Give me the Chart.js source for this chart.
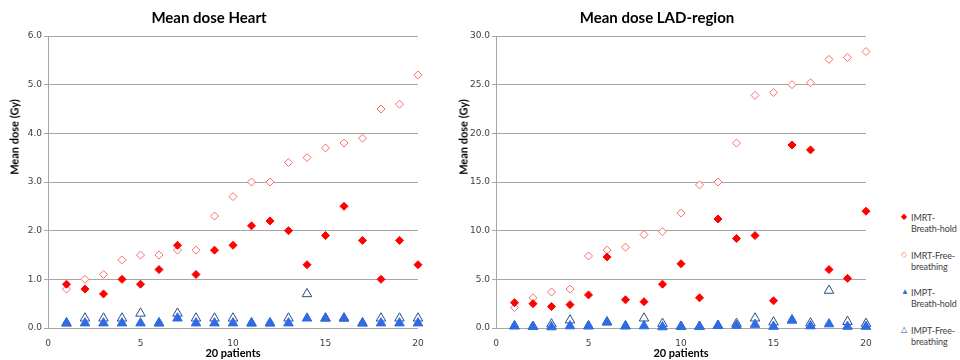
<!DOCTYPE html>
<html>
<head>
<meta charset="utf-8">
<script src="https://cdn.jsdelivr.net/npm/chart.js@4/dist/chart.umd.min.js"></script>
<style>
  body{margin:0;background:#fff;width:960px;height:360px;overflow:hidden;position:relative;font-family:"DejaVu Sans",sans-serif}
  .box{position:absolute;top:0;width:440px;height:360px}
  .ytitle{position:absolute;top:137px;width:120px;margin-left:-60px;text-align:center;font:bold 11px Lato,sans-serif;color:#000;transform:translateY(-50%) rotate(-90deg);white-space:nowrap}
  #legend{position:absolute;left:901px;top:212px;font:9px Lato,sans-serif;color:#404040;white-space:nowrap;letter-spacing:-0.1px}
  #legend .it{position:relative;height:37.5px;padding-left:10px;line-height:11px}
  #legend .mk{position:absolute;left:0;top:-1px;font-size:8px;line-height:11px}
</style>
</head>
<body>
<div class="box" style="left:0"><canvas id="heart"></canvas></div>
<div class="box" style="left:448px"><canvas id="lad"></canvas></div>
<div class="ytitle" style="left:14px">Mean dose (Gy)</div>
<div class="ytitle" style="left:463px">Mean dose (Gy)</div>
<div id="legend"></div>
<script>
const patients = [1,2,3,4,5,6,7,8,9,10,11,12,13,14,15,16,17,18,19,20];
const seriesNames = ['IMRT-Breath-hold','IMRT-Free-breathing','IMPT-Breath-hold','IMPT-Free-breathing'];
const legendLines = [['IMRT-','Breath-hold'],['IMRT-Free-','breathing'],['IMPT-','Breath-hold'],['IMPT-Free-','breathing']];

// Mean dose Heart (Gy)
const heartImrtBH = [0.9,0.8,0.7,1.0,0.9,1.2,1.7,1.1,1.6,1.7,2.1,2.2,2.0,1.3,1.9,2.5,1.8,1.0,1.8,1.3];
const heartImrtFB = [0.8,1.0,1.1,1.4,1.5,1.5,1.6,1.6,2.3,2.7,3.0,3.0,3.4,3.5,3.7,3.8,3.9,4.5,4.6,5.2];
const heartImptBH = [0.1,0.1,0.1,0.1,0.1,0.1,0.2,0.1,0.1,0.1,0.1,0.1,0.1,0.2,0.2,0.2,0.1,0.1,0.1,0.1];
const heartImptFB = [0.1,0.2,0.2,0.2,0.3,0.1,0.3,0.2,0.2,0.2,0.1,0.1,0.2,0.7,0.2,0.2,0.1,0.2,0.2,0.2];

// Mean dose LAD-region (Gy)
const ladImrtBH = [2.6,2.5,2.2,2.4,3.4,7.3,2.9,2.7,4.5,6.6,3.1,11.2,9.2,9.5,2.8,18.8,18.3,6.0,5.1,12.0];
const ladImrtFB = [2.1,3.1,3.7,4.0,7.4,8.0,8.3,9.6,9.9,11.8,14.7,15.0,19.0,23.9,24.2,25.0,25.2,27.6,27.8,28.4];
const ladImptBH = [0.2,0.15,0.1,0.2,0.2,0.6,0.2,0.2,0.1,0.15,0.15,0.25,0.25,0.35,0.15,0.8,0.2,0.4,0.15,0.15];
const ladImptFB = [0.2,0.15,0.4,0.8,0.2,0.6,0.2,1.0,0.45,0.15,0.15,0.25,0.45,1.0,0.6,0.8,0.5,3.85,0.65,0.45];

const markStyles = [
  {shape:'rectRot', r:4, fill:'#ff0000', line:'#ff0000'},
  {shape:'rectRot', r:4, fill:'#ffffff', line:'#ff6b6b'},
  {shape:'triangle', r:5.5, fill:'#2f6be6', line:'#2f6be6'},
  {shape:'triangle', r:5.5, fill:'rgba(255,255,255,0)', line:'#2b4b80'}
];

function makeChart(id, title, series, yMax, yStep){
  const cv = document.getElementById(id);
  cv.width = 440; cv.height = 360;
  new Chart(cv, {
    type: 'scatter',
    data: {
      datasets: series.map((vals,i)=>{
        const m = markStyles[i];
        return {
          label: seriesNames[i],
          data: vals.map((v,j)=>({x:patients[j], y:v})),
          clip: false,
          pointStyle: m.shape, pointRadius: m.r, pointHoverRadius: m.r, pointBorderWidth: 1, pointHoverBorderWidth: 1,
          backgroundColor: m.fill, borderColor: m.line,
          pointBackgroundColor: m.fill, pointBorderColor: m.line,
          pointHoverBackgroundColor: m.fill, pointHoverBorderColor: m.line
        };
      })
    },
    options: {
      responsive:false, animation:false, events:[],
      layout:{padding:{left:0,right:22,top:0,bottom:0}},
      plugins:{
        legend:{display:false}, tooltip:{enabled:false},
        title:{display:true, text:title, color:'#000', font:{family:'Lato', size:15, weight:'bold'}, padding:{top:9,bottom:9}}
      },
      scales:{
        x:{type:'linear', min:0, max:20,
          ticks:{stepSize:5, color:'#404040', font:{family:'DejaVu Sans', size:9}, padding:10, maxRotation:0},
          grid:{display:false, drawTicks:false}, border:{display:false},
          title:{display:true, text:'20 patients', color:'#000', font:{family:'Lato', size:11, weight:'bold'}, padding:{top:0,bottom:0}},
          afterFit(s){ s.height = 32; }
        },
        y:{min:0, max:yMax,
          ticks:{stepSize:yStep, color:'#404040', font:{family:'DejaVu Sans', size:9}, padding:2, callback:v=>v.toFixed(1)},
          grid:{color:'#a6a6a6', drawTicks:true, tickLength:4}, border:{color:'#a6a6a6'},
          afterFit(s){ s.width = 48; }
        }
      }
    }
  });
}

makeChart('heart','Mean dose Heart',[heartImrtBH,heartImrtFB,heartImptBH,heartImptFB],6,1);
makeChart('lad','Mean dose LAD-region',[ladImrtBH,ladImrtFB,ladImptBH,ladImptFB],30,5);

const marks = [['◆','#ff0000'],['◇','#ff6b6b'],['▲','#2f6be6'],['△','#2b4b80']];
document.getElementById('legend').innerHTML = legendLines.map((l,i)=>
  `<div class="it"><span class="mk" style="color:${marks[i][1]}">${marks[i][0]}</span>${l[0]}<br>${l[1]}</div>`).join('');
</script>
</body>
</html>
